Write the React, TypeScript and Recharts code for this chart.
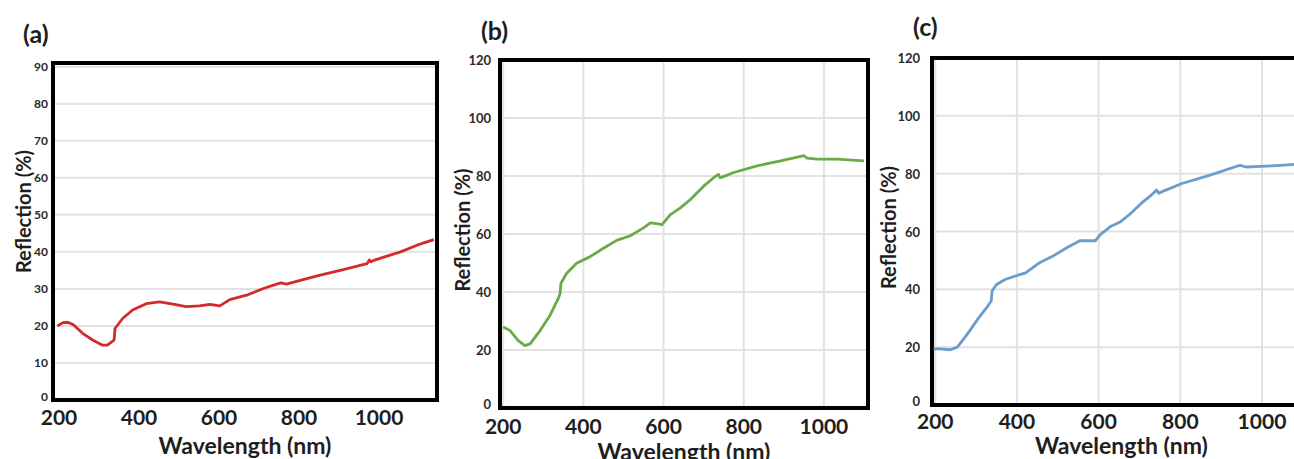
import React from 'react';
import { LineChart, Line, XAxis, YAxis, CartesianGrid, ReferenceArea } from 'recharts';

// ---------- data ----------
const xTicks = [200, 400, 600, 800, 1000];
const yTicksA = [0, 10, 20, 30, 40, 50, 60, 70, 80, 90];
const yTicksBC = [0, 20, 40, 60, 80, 100, 120];

const wavelengthA = [196, 210, 222, 236, 259, 284, 309, 321, 336, 338, 340, 359, 384, 418, 451, 485, 518, 551, 577, 602, 627, 669, 711, 744, 755, 769, 803, 853, 911, 970, 976, 980, 987, 1012, 1054, 1095, 1137];
const reflectionA = [20.0, 20.9, 21.0, 20.3, 18.0, 16.2, 14.8, 14.8, 16.0, 16.4, 19.3, 22.0, 24.3, 26.0, 26.5, 25.9, 25.2, 25.4, 25.8, 25.4, 27.1, 28.3, 30.1, 31.3, 31.6, 31.3, 32.3, 33.7, 35.2, 36.8, 37.8, 37.3, 37.7, 38.6, 40.0, 41.8, 43.3];

const wavelengthB = [200, 217, 237, 254, 267, 292, 317, 337, 342, 344, 358, 383, 417, 450, 483, 517, 550, 567, 583, 596, 617, 642, 667, 700, 725, 737, 741, 746, 775, 833, 892, 950, 958, 983, 1033, 1100];
const reflectionB = [27.9, 26.7, 23.3, 21.5, 22.1, 26.7, 32.0, 37.7, 39.5, 43.0, 46.4, 49.9, 52.2, 55.1, 57.8, 59.4, 62.1, 63.8, 63.6, 63.2, 66.7, 69.0, 71.9, 76.5, 79.4, 80.6, 79.4, 79.6, 81.2, 83.5, 85.2, 87.0, 86.2, 85.8, 85.8, 85.2];

const wavelengthC = [196, 212, 237, 254, 279, 304, 329, 337, 339, 350, 371, 396, 421, 454, 487, 521, 554, 571, 592, 604, 629, 654, 679, 704, 729, 742, 748, 754, 804, 871, 946, 962, 996, 1046, 1096, 1120];
const reflectionC = [19.4, 19.4, 19.1, 20.0, 24.6, 29.7, 34.3, 36.0, 39.4, 41.7, 43.4, 44.6, 45.7, 49.1, 51.4, 54.3, 56.8, 56.8, 56.8, 58.9, 61.7, 63.4, 66.3, 69.7, 72.6, 74.3, 73.2, 73.7, 76.6, 79.4, 82.9, 82.3, 82.5, 82.9, 83.4, 83.6];

const toRows = (xs: number[], ys: number[]) => xs.map((x, i) => ({ x, y: ys[i] }));
const dataA = toRows(wavelengthA, reflectionA);
const dataB = toRows(wavelengthB, reflectionB);
const dataC = toRows(wavelengthC, reflectionC);

const FONT = 'Lato, "Open Sans", sans-serif';
const TEXT = '#1e1e1e';

const yTitle = (cx: number, dy: number, text: string) => (props: any) => {
  const vb = props.viewBox || {};
  const cy = (vb.y || 0) + (vb.height || 0) / 2 + dy;
  return (
    <text x={cx} y={cy} transform={`rotate(-90, ${cx}, ${cy})`} textAnchor="middle" dominantBaseline="central"
      fontFamily={FONT} fontWeight={700} fontSize={20} fill={TEXT}>{text}</text>
  );
};

const xTitle = (cy: number, text: string) => (props: any) => {
  const vb = props.viewBox || {};
  const cx = (vb.x || 0) + (vb.width || 0) / 2;
  return (
    <text x={cx} y={cy} textAnchor="middle" dominantBaseline="central"
      fontFamily={FONT} fontWeight={700} fontSize={23} fill={TEXT}>{text}</text>
  );
};

const makeYTick = (fontSize: number) => (props: any) => {
  const { x, y, payload } = props;
  const yy = payload.value === 0 ? y - 4 : y;
  return (
    <text x={x} y={yy} textAnchor="end" dominantBaseline="central" fontFamily={FONT} fontWeight={700}
      fontSize={fontSize} fill="#2a2a2a">{payload.value}</text>
  );
};

type PanelProps = {
  data: { x: number; y: number }[];
  color: string;
  left: number;
  width: number;
  top: number;
  plotBottom: number;
  yAxisWidth: number;
  marginRight: number;
  xDomain: [number, number];
  yDomain: [number, number];
  yTicks: number[];
  yTickMargin: number;
  yTickSize: number;
  xTickMargin: number;
  yTitleX: number;
  yTitleDy: number;
  xTitleY: number;
  vGrid: boolean;
};

const H = 459;

function Panel(p: PanelProps) {
  return (
    <div style={{ position: 'absolute', left: p.left, top: 0 }}>
      <LineChart width={p.width} height={H} data={p.data}
        margin={{ top: p.top, right: p.marginRight, bottom: 0, left: 0 }}>
        <CartesianGrid vertical={p.vGrid} stroke="#e2e2e2" strokeWidth={2} />
        <XAxis dataKey="x" type="number" domain={p.xDomain} ticks={xTicks} allowDataOverflow
          height={H - p.plotBottom} axisLine={false} tickLine={false} tickSize={0} tickMargin={p.xTickMargin}
          tick={{ fontFamily: FONT, fontWeight: 700, fontSize: 21, fill: TEXT }}
          label={{ content: xTitle(p.xTitleY, 'Wavelength (nm)') }} />
        <YAxis type="number" domain={p.yDomain} ticks={p.yTicks} allowDataOverflow width={p.yAxisWidth}
          axisLine={false} tickLine={false} tickSize={0} tickMargin={p.yTickMargin}
          tick={makeYTick(p.yTickSize)}
          label={{ content: yTitle(p.yTitleX, p.yTitleDy, 'Reflection (%)') }} />
        <Line type="linear" dataKey="y" stroke={p.color} strokeWidth={2.8} dot={false}
          strokeLinejoin="round" isAnimationActive={false} />
        <ReferenceArea x1={p.xDomain[0]} x2={p.xDomain[1]} y1={p.yDomain[0]} y2={p.yDomain[1]}
          fill="none" fillOpacity={0} stroke="#000" strokeWidth={4} ifOverflow="visible" />
      </LineChart>
    </div>
  );
}

const titleStyle = (left: number, top: number): React.CSSProperties => ({
  position: 'absolute', left, top, fontFamily: FONT, fontWeight: 700, fontSize: 25, color: TEXT, lineHeight: '26px',
});

export default function App() {
  return (
    <div style={{ position: 'absolute', left: 0, top: 0, width: 1294, height: H, overflow: 'hidden', background: '#fff' }}>
      <div style={titleStyle(23, 20)}>(a)</div>
      <div style={titleStyle(481, 17)}>(b)</div>
      <div style={titleStyle(913, 13)}>(c)</div>
      <Panel data={dataA} color="#d42a2a" left={0} width={450} top={63} plotBottom={400}
        yAxisWidth={53} marginRight={13} xDomain={[185, 1145]} yDomain={[0, 91]} yTicks={yTicksA}
        yTickMargin={5} yTickSize={12} xTickMargin={10} yTitleX={23} yTitleDy={-20} xTitleY={445} vGrid={false} />
      <Panel data={dataB} color="#6aaa48" left={440} width={440} top={60} plotBottom={408}
        yAxisWidth={60} marginRight={12} xDomain={[192, 1110]} yDomain={[0, 120]} yTicks={yTicksBC}
        yTickMargin={9} yTickSize={13} xTickMargin={11} yTitleX={22} yTitleDy={-4} xTitleY={451} vGrid={true} />
      <Panel data={dataC} color="#6a9ccc" left={870} width={453} top={58} plotBottom={405}
        yAxisWidth={62} marginRight={12} xDomain={[192, 1120]} yDomain={[0, 120]} yTicks={yTicksBC}
        yTickMargin={12} yTickSize={13} xTickMargin={9} yTitleX={18} yTitleDy={-4} xTitleY={445} vGrid={true} />
    </div>
  );
}
